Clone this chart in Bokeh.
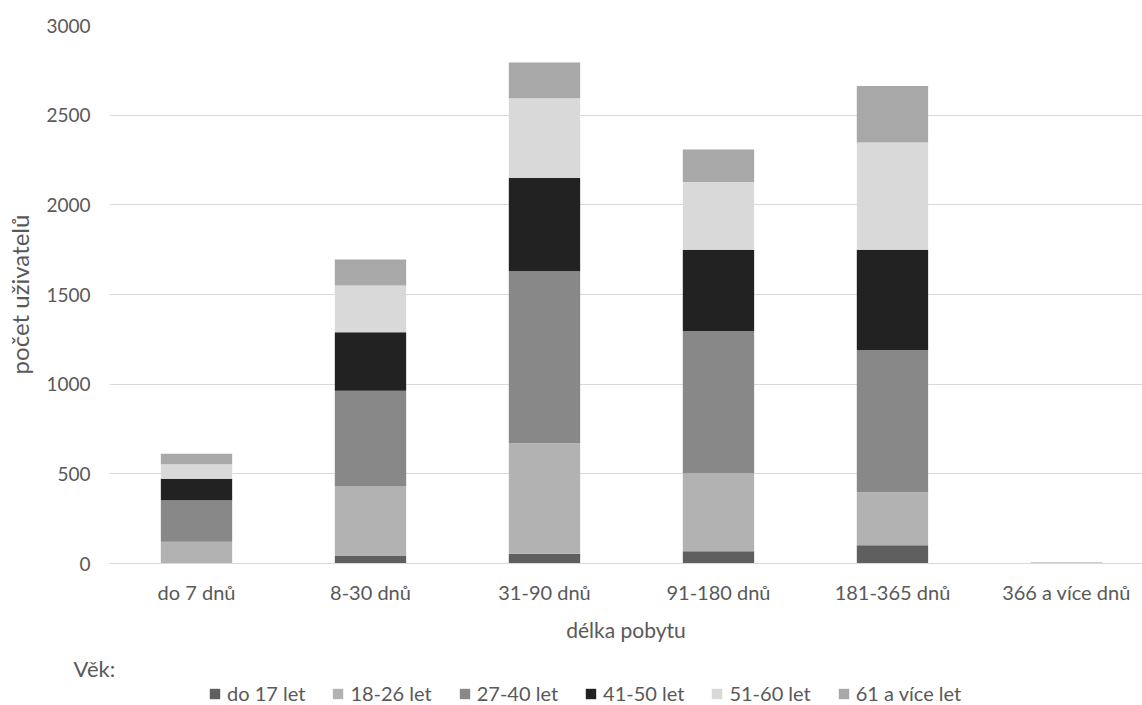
from bokeh.plotting import figure
from bokeh.layouts import column
from bokeh.models import ColumnDataSource, Range1d, FixedTicker, Legend, LegendItem, Title
from bokeh.embed import file_html
from bokeh.resources import INLINE

categories = ["do 7 dnů", "8-30 dnů", "31-90 dnů", "91-180 dnů", "181-365 dnů", "366 a více dnů"]
age_groups = ["do 17 let", "18-26 let", "27-40 let", "41-50 let", "51-60 let", "61 a více let"]

do_17 = [0, 42, 55, 69, 102, 0]
age_18_26 = [121, 387, 615, 434, 296, 2]
age_27_40 = [232, 534, 960, 793, 792, 3]
age_41_50 = [119, 327, 519, 453, 559, 1]
age_51_60 = [82, 260, 446, 379, 599, 2]
age_61_plus = [58, 145, 199, 181, 314, 1]

colors = ["#5f5f5f", "#b2b2b2", "#888888", "#222222", "#d9d9d9", "#a8a8a8"]

FONT = "Lato"
TXT = "#595959"

keys = ["a0", "a1", "a2", "a3", "a4", "a5"]
series = [do_17, age_18_26, age_27_40, age_41_50, age_51_60, age_61_plus]
xs = list(range(len(categories)))
data = {"x": xs}
for k, s in zip(keys, series):
    data[k] = s
source = ColumnDataSource(data)

W = 1142
H_MAIN = 645
H_LEG = 60

p = figure(width=W, height=H_MAIN, output_backend="svg", toolbar_location=None,
           x_range=Range1d(-0.5, 5.437), y_range=Range1d(0, 3000),
           min_border_left=109, min_border_right=0, min_border_top=25, min_border_bottom=82)
p.outline_line_color = None

renderers = p.vbar_stack(keys, x="x", width=0.41, source=source, color=colors,
                         line_color=None)

p.xgrid.grid_line_color = None
p.ygrid.grid_line_color = "#d9d9d9"
p.ygrid.grid_line_width = 1

p.yaxis.ticker = FixedTicker(ticks=[0, 500, 1000, 1500, 2000, 2500, 3000])
p.yaxis.axis_line_color = None
p.yaxis.major_label_standoff = 19
p.yaxis.axis_label = "počet uživatelů"
p.yaxis.axis_label_standoff = 9

p.xaxis.ticker = FixedTicker(ticks=xs)
p.xaxis.major_label_overrides = {i: c for i, c in enumerate(categories)}
p.xaxis.axis_line_color = "#d9d9d9"
p.xaxis.major_label_standoff = 16
p.xaxis.axis_label = "délka pobytu"
p.xaxis.axis_label_standoff = 10

for ax in (p.xaxis, p.yaxis):
    ax.major_tick_line_color = None
    ax.minor_tick_line_color = None
    ax.major_tick_out = 0
    ax.major_tick_in = 0
    ax.minor_tick_out = 0
    ax.minor_tick_in = 0
    ax.major_label_text_font = FONT
    ax.major_label_text_font_size = "20px"
    ax.major_label_text_color = TXT
    ax.axis_label_text_font = FONT
    ax.axis_label_text_font_style = "normal"
    ax.axis_label_text_color = TXT
p.yaxis.major_label_text_font_size = "19px"
p.xaxis.axis_label_text_font_size = "21px"
p.yaxis.axis_label_text_font_size = "24px"

# legend strip below the chart
q = figure(width=W, height=H_LEG, output_backend="svg", toolbar_location=None,
           x_range=Range1d(0, 1), y_range=Range1d(0, 1),
           x_axis_location=None, y_axis_location=None,
           min_border_left=109, min_border_right=0, min_border_top=36, min_border_bottom=0)
q.outline_line_color = None
q.grid.visible = False

# legend-only renderers (their single bar lies outside the visible range)
dummy = [q.vbar(x=[-10], top=[-10], bottom=[-11], width=0.1, fill_color=c, line_color=None)
         for c in colors]
items = [LegendItem(label=a, renderers=[r]) for a, r in zip(age_groups, dummy)]
legend = Legend(items=items, orientation="horizontal", location=(99, 0),
                border_line_color=None, background_fill_alpha=0,
                glyph_width=13, glyph_height=13, label_standoff=6, spacing=26,
                padding=0, margin=0,
                label_text_font=FONT, label_text_font_size="20px", label_text_color=TXT)
q.add_layout(legend, "center")

q.add_layout(Title(text="Věk:", align="left", offset=-36, text_font=FONT,
                   text_font_size="22px", text_font_style="normal", text_color=TXT,
                   standoff=0), "above")

layout = column(p, q, spacing=0)
open("out.html", "w").write(file_html(layout, INLINE))
